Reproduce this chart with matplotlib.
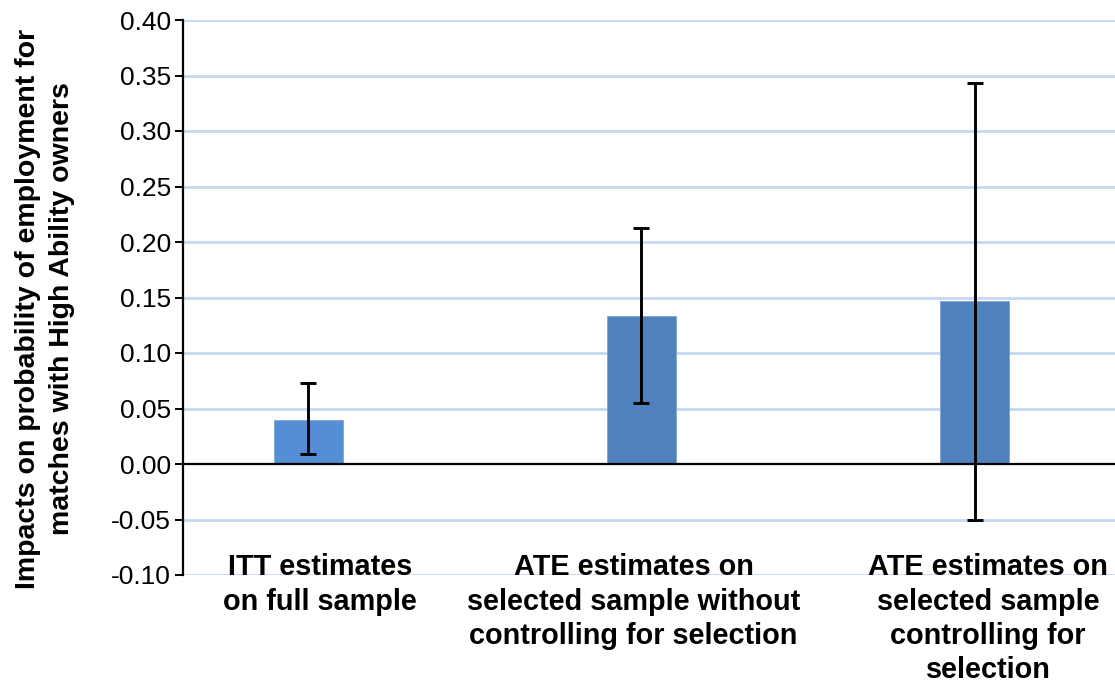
import matplotlib
matplotlib.use("Agg")
import matplotlib.pyplot as plt
import numpy as np

categories = ["ITT estimates\non full sample",
              "ATE estimates on\nselected sample without\ncontrolling for selection",
              "ATE estimates on\nselected sample\ncontrolling for\nselection"]
values = [0.040, 0.133, 0.147]
err_low = [0.009, 0.055, -0.050]
err_high = [0.073, 0.213, 0.343]
bar_colors = ["#558ED5", "#4F81BD", "#4F81BD"]
yticks = [-0.10, -0.05, 0.00, 0.05, 0.10, 0.15, 0.20, 0.25, 0.30, 0.35, 0.40]
ylabel = "Impacts on probability of employment for\nmatches with High Ability owners"

plt.rcParams['font.family'] = ['Liberation Sans', 'DejaVu Sans']

W, H = 1115, 682
fig = plt.figure(figsize=(W / 100, H / 100), dpi=100)
ax_left, ax_right, ax_top, ax_bot = 183, 1115, 20, 575
ax = fig.add_axes([ax_left / W, (H - ax_bot) / H, (ax_right - ax_left) / W, (ax_bot - ax_top) / H])

x = np.arange(len(categories))
vals = np.array(values)
lo = vals - np.array(err_low)
hi = np.array(err_high) - vals

ax.bar(x, vals, width=0.207, color=bar_colors, edgecolor="#7FA3D3", linewidth=0.6, zorder=2)
ax.errorbar(x, vals, yerr=[lo, hi], fmt='none', ecolor='black', elinewidth=2.1,
            capsize=5.5, capthick=2.1, zorder=3)

ax.set_ylim(-0.10, 0.40)
ax.set_xlim(-0.375, 2.42)
ax.set_yticks(yticks)
ax.set_yticklabels([f"{t:.2f}" for t in yticks], fontsize=19)
for t in yticks:
    if abs(t) > 1e-9:
        ax.axhline(t, color="#C6D9F1", lw=2, zorder=1)
ax.axhline(0, color="black", lw=1.6, zorder=2.5)

for s in ["top", "right", "bottom"]:
    ax.spines[s].set_visible(False)
ax.spines["left"].set_linewidth(1.6)
ax.tick_params(axis='y', direction='out', length=5.5, width=1.4, pad=3)
ax.tick_params(axis='x', bottom=False, labelbottom=False)

label_offsets = [0.036, -0.024, 0.039]
for xi, lab, off in zip(x, categories, label_offsets):
    ax.text(xi + off, -0.0805, lab, ha='center', va='top', fontsize=20.8,
            fontweight='bold', linespacing=1.28, transform=ax.transData, clip_on=False)

fig.text(45 / W, 1 - 309 / H, ylabel, rotation=90, ha='center', va='center',
         fontsize=20.5, fontweight='bold', linespacing=1.36)

fig.savefig("out.png", dpi=100)
